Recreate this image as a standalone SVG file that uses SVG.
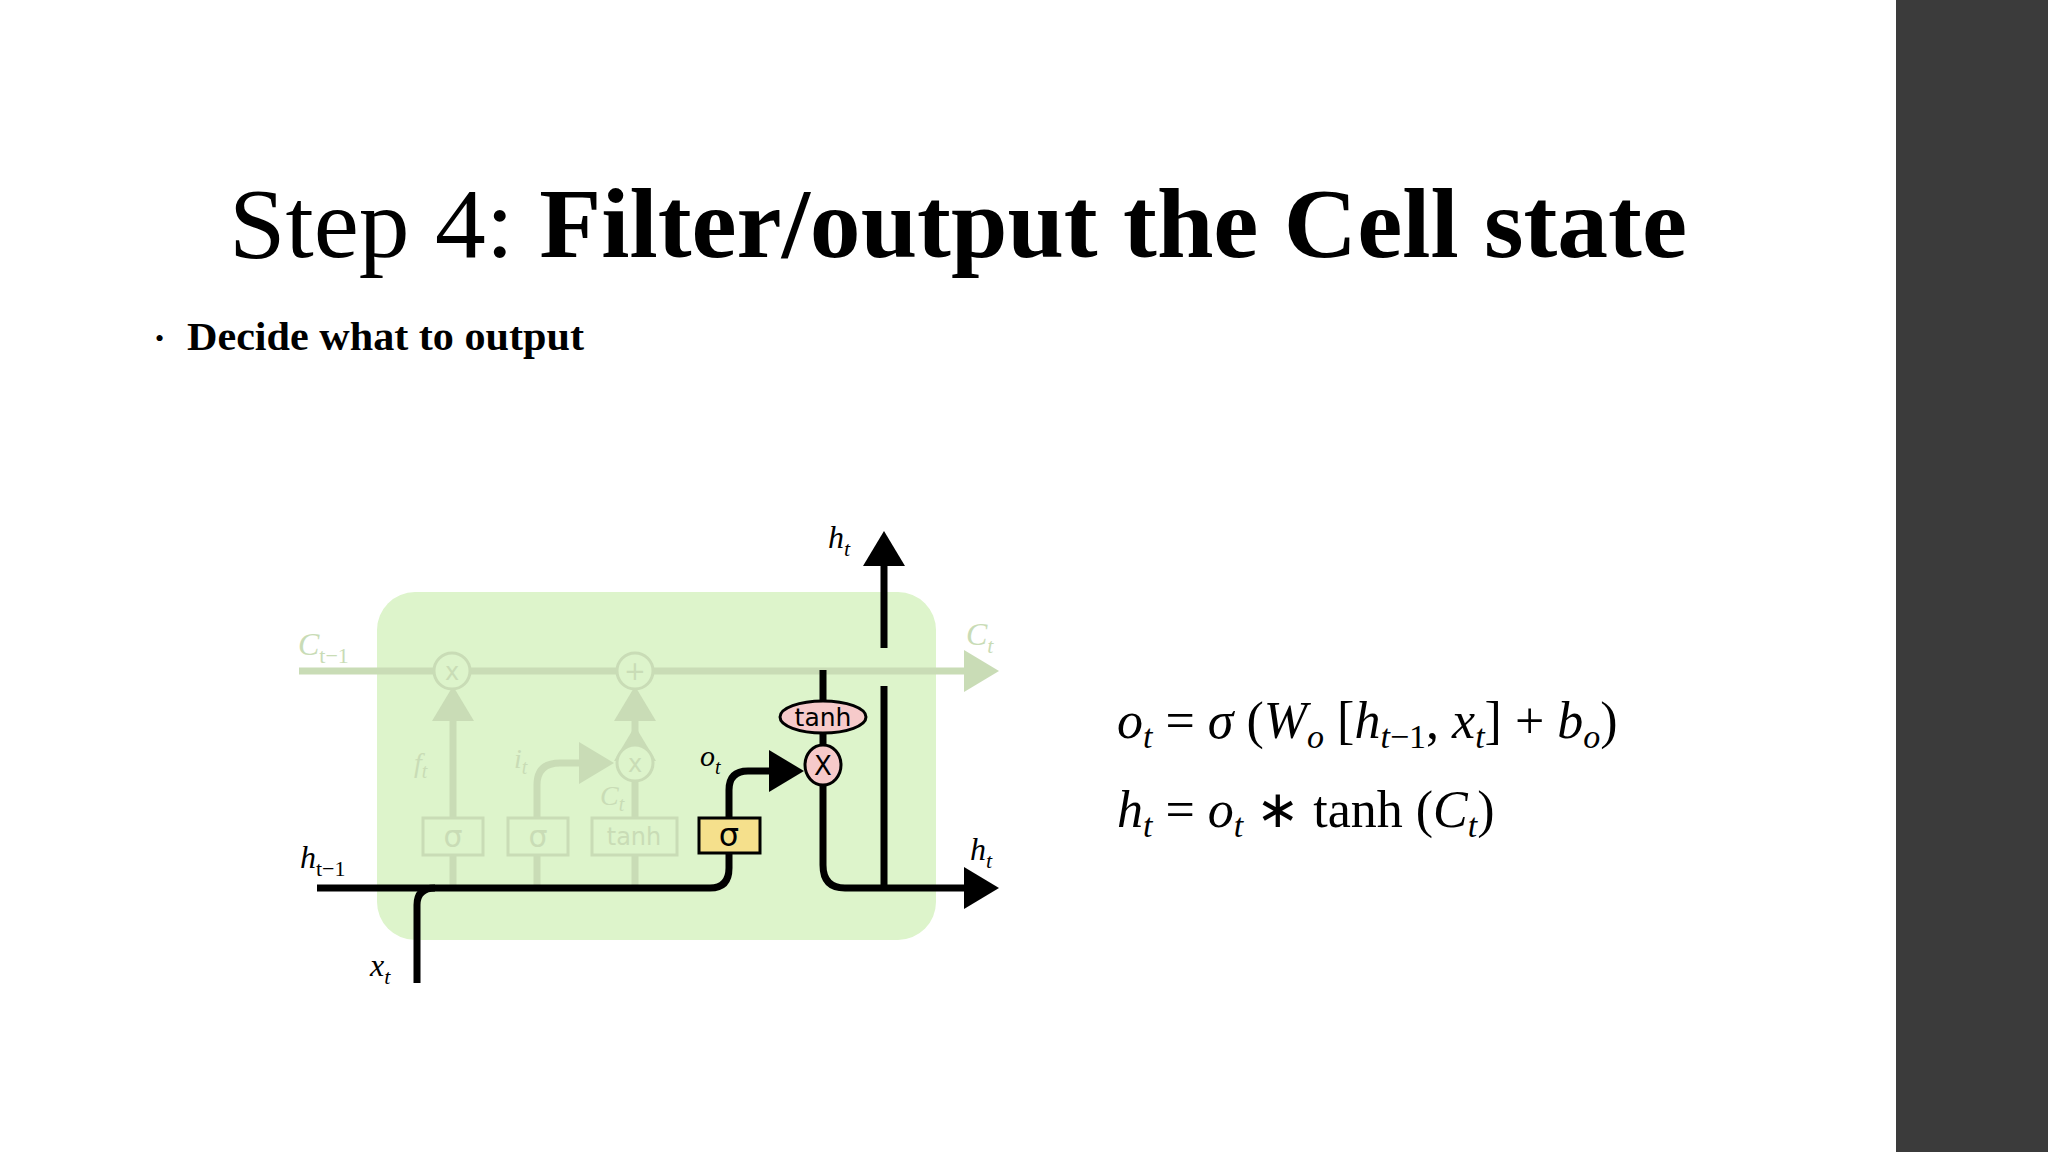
<svg xmlns="http://www.w3.org/2000/svg" width="2048" height="1152" viewBox="0 0 2048 1152">
<style>
.t{font-family:"Liberation Serif",serif;fill:#000}
.m{font-family:"Liberation Serif",serif;font-style:italic}
.f{stroke:#c9dcb6;fill:none;stroke-width:7}
.fl{font-family:"Liberation Serif",serif;font-style:italic;fill:#c9dcb6}
.b{stroke:#000;fill:none;stroke-width:7}
.g{font-family:"DejaVu Sans",sans-serif}
</style>
<defs>
<marker id="ab" markerWidth="6" markerHeight="6" refX="3" refY="3" orient="auto" markerUnits="strokeWidth"><path d="M0,0 L5,3 L0,6Z" fill="#000"/></marker>
<marker id="af" markerWidth="6" markerHeight="6" refX="3" refY="3" orient="auto" markerUnits="strokeWidth"><path d="M0,0 L5,3 L0,6Z" fill="#c9dcb6"/></marker>
</defs>
<rect width="2048" height="1152" fill="#fff"/>
<rect x="1896" y="0" width="152" height="1152" fill="#3b3b3b"/>
<text class="t" x="229" y="257" font-size="100" textLength="1458" lengthAdjust="spacingAndGlyphs">Step 4: <tspan font-weight="bold">Filter/output the Cell state</tspan></text>
<text class="t" x="155" y="347" font-size="26" fill="#666">•</text>
<text class="t" x="187" y="350" font-size="39" font-weight="bold" textLength="397" lengthAdjust="spacingAndGlyphs">Decide what to output</text>
<g id="cell"><rect x="377" y="592" width="559" height="348" rx="38" fill="#ddf4cb"/></g>
<g id="connectors">
<path class="f" d="M299,671 H985" marker-end="url(#af)"/>
<path class="f" d="M453,888 V700" marker-end="url(#af)"/>
<path class="f" d="M537,888 V785 Q537,763 560,763 H600" marker-end="url(#af)"/>
<path class="f" d="M635,888 V740" marker-end="url(#af)"/>
<path class="f" d="M635,745 V700" marker-end="url(#af)"/>
<path class="b" d="M317,888 H710 Q729,888 729,868 V853"/>
<path class="b" d="M417,983 V905 Q417,888 435,888"/>
<path class="b" d="M729,818 V790 Q729,771 748,771 H790" marker-end="url(#ab)"/>
<path class="b" d="M823,670 V865 Q823,888 845,888 H985" marker-end="url(#ab)"/>
<path class="b" d="M884,888 V686"/>
<path class="b" d="M884,648 V545" marker-end="url(#ab)"/>
</g>
<g id="faded">
<circle cx="452" cy="671" r="18" fill="#ddf4cb" stroke="#c9dcb6" stroke-width="3"/><text x="452" y="680" text-anchor="middle" font-size="24" fill="#c9dcb6" class="g">x</text>
<circle cx="635" cy="671" r="18" fill="#ddf4cb" stroke="#c9dcb6" stroke-width="3"/><text x="635" y="680" text-anchor="middle" font-size="26" fill="#c9dcb6" class="g">+</text>
<circle cx="635" cy="763" r="18" fill="#ddf4cb" stroke="#c9dcb6" stroke-width="3"/><text x="635" y="772" text-anchor="middle" font-size="24" fill="#c9dcb6" class="g">x</text>
<rect x="423" y="818" width="60" height="37" fill="#ddf4cb" stroke="#c9dcb6" stroke-width="3"/><text x="453" y="847" text-anchor="middle" font-size="30" fill="#c9dcb6" class="g">σ</text>
<rect x="508" y="818" width="60" height="37" fill="#ddf4cb" stroke="#c9dcb6" stroke-width="3"/><text x="538" y="847" text-anchor="middle" font-size="30" fill="#c9dcb6" class="g">σ</text>
<rect x="592" y="818" width="85" height="37" fill="#ddf4cb" stroke="#c9dcb6" stroke-width="3"/><text x="634" y="845" text-anchor="middle" font-size="24" fill="#c9dcb6" class="g">tanh</text>
<text class="fl" x="298" y="655" font-size="32">C<tspan font-size="22" dy="8" font-style="normal">t−1</tspan></text>
<text class="fl" x="966" y="645" font-size="32">C<tspan font-size="22" dy="8">t</tspan></text>
<text class="fl" x="414" y="772" font-size="28">f<tspan font-size="20" dy="6">t</tspan></text>
<text class="fl" x="514" y="768" font-size="28">i<tspan font-size="20" dy="6">t</tspan></text>
<text class="fl" x="600" y="805" font-size="28">C<tspan font-size="20" dy="6">t</tspan></text>
</g>
<g id="sigma"><rect x="699" y="818" width="61" height="35" fill="#f5e08c" stroke="#000" stroke-width="3"/><text x="729" y="846" text-anchor="middle" font-size="32" class="g">σ</text></g>
<g id="tanh"><ellipse cx="823" cy="717" rx="43" ry="16" fill="#f6caca" stroke="#000" stroke-width="3"/><text x="823" y="726" text-anchor="middle" font-size="25" class="g">tanh</text></g>
<g id="mul"><ellipse cx="823" cy="765" rx="18" ry="20" fill="#f6caca" stroke="#000" stroke-width="3"/><text x="823" y="775" text-anchor="middle" font-size="26" class="g">X</text></g>
<g id="labels">
<text class="m" x="828" y="548" font-size="32">h<tspan font-size="22" dy="8">t</tspan></text>
<text class="m" x="700" y="766" font-size="30">o<tspan font-size="20" dy="8">t</tspan></text>
<text class="m" x="300" y="868" font-size="32">h<tspan font-size="22" dy="8" font-style="normal">t−1</tspan></text>
<text class="m" x="970" y="860" font-size="32">h<tspan font-size="22" dy="8">t</tspan></text>
<text class="m" x="370" y="976" font-size="32">x<tspan font-size="22" dy="8">t</tspan></text>
</g>
<g id="equations" font-family="Liberation Serif,serif" font-size="52">
<text x="1117" y="738"><tspan font-style="italic">o</tspan><tspan font-size="34" dy="10" font-style="italic">t</tspan><tspan dy="-10"> = </tspan><tspan font-style="italic">σ</tspan> (<tspan font-style="italic">W</tspan><tspan font-size="34" dy="10" font-style="italic">o</tspan><tspan dy="-10">  [</tspan><tspan font-style="italic">h</tspan><tspan font-size="34" dy="10"><tspan font-style="italic">t</tspan>−1</tspan><tspan dy="-10">, </tspan><tspan font-style="italic">x</tspan><tspan font-size="34" dy="10" font-style="italic">t</tspan><tspan dy="-10">]  +  </tspan><tspan font-style="italic">b</tspan><tspan font-size="34" dy="10" font-style="italic">o</tspan><tspan dy="-10">)</tspan></text>
<text x="1117" y="827"><tspan font-style="italic">h</tspan><tspan font-size="34" dy="10" font-style="italic">t</tspan><tspan dy="-10"> = </tspan><tspan font-style="italic">o</tspan><tspan font-size="34" dy="10" font-style="italic">t</tspan><tspan dy="-10"> ∗ tanh (</tspan><tspan font-style="italic">C</tspan><tspan font-size="34" dy="10" font-style="italic">t</tspan><tspan dy="-10">)</tspan></text>
</g>
</svg>
